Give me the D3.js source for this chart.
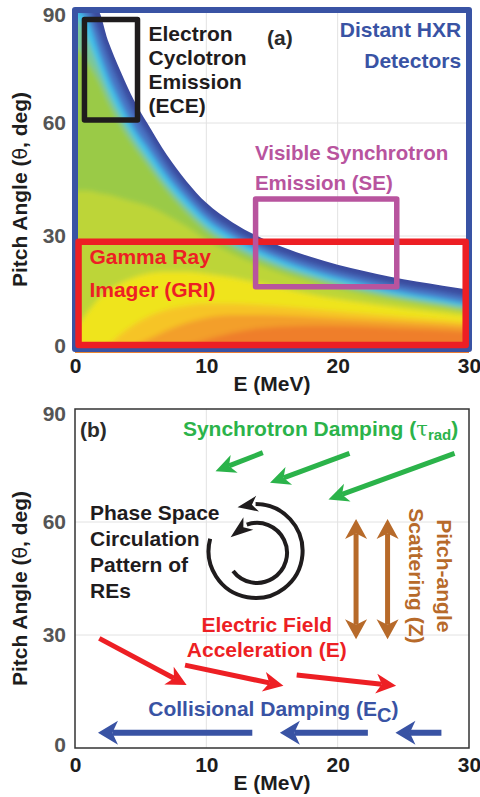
<!DOCTYPE html>
<html>
<head>
<meta charset="utf-8">
<script src="https://cdn.jsdelivr.net/npm/d3@7"></script>
<style>
  body { margin: 0; background: #fff; }
  svg text { font-family: "Liberation Sans", Arial, Helvetica, sans-serif; font-weight: bold; }
</style>
</head>
<body>
<svg id="chart" width="480" height="797"></svg>
<script>
// ---- data ----
const xTicks = [0, 10, 20, 30];
const yTicks = [0, 30, 60, 90];

// energy grid for the colour map levels (MeV)
const eGrid = [0, 1, 1.7, 2.5, 3.5, 4.5, 5.5, 7, 8.5, 10, 12, 14, 16, 18, 20, 22, 24, 26, 28, 30];
// pitch angle of each contour level
const boundaryLv    = [90, 90, 90, 82, 73.5, 66, 60, 51.5, 44.5, 38.8, 33.6, 29.8, 26.8, 24.4, 22.4, 20.7, 19.2, 17.9, 16.8, 15.7];
const midBlueLv     = [90, 90, 85, 77.5, 69.5, 62.5, 57, 48.8, 42.2, 36.6, 31.6, 27.9, 25, 22.6, 20.6, 18.9, 17.4, 16.1, 15, 13.9];
const cyanLv        = [90, 87, 80, 72.5, 65, 58.5, 53.5, 46, 39.8, 34.5, 29.8, 26.2, 23.3, 20.9, 18.9, 17.2, 15.7, 14.4, 13.3, 12.2];
const greenCyanLv   = [88, 82, 76, 69, 62, 56, 51, 43.8, 37.8, 32.8, 28.3, 24.8, 22, 19.7, 17.7, 16.1, 14.7, 13.4, 12.3, 11.3];
const greenLv       = [80, 76, 72, 66, 59.5, 54, 49.2, 42.2, 36.3, 31.4, 27.1, 23.7, 21, 18.8, 16.9, 15.3, 13.9, 12.7, 11.6, 10.6];
const yellowGreenLv = [42, 42, 41.5, 41, 40, 39, 38, 35.5, 32.5, 29, 25.3, 22.3, 19.8, 17.8, 16, 14.5, 13.2, 12, 11, 10];
const yellowLv      = [6, 10, 13, 15.5, 17.5, 19, 20, 20.5, 20.5, 20, 19, 17.5, 16, 14.5, 13.3, 12.3, 11.3, 10.4, 9.6, 8.9];
const lightOrangeLv = [0, 0, 0, 1, 4, 6.5, 8.5, 10.5, 11.5, 12, 12, 11.7, 11.2, 10.6, 10, 9.4, 8.8, 8.2, 7.7, 7.2];
const orangeLv      = [0, 0, 0, 0, 0, 1, 2.5, 5, 7, 8.3, 9, 9, 8.8, 8.5, 8.1, 7.7, 7.3, 6.9, 6.5, 6.1];
const darkOrangeLv  = [0, 0, 0, 0, 0, 0, 0, 0, 1, 2.5, 4.3, 5.5, 6, 6.2, 6.1, 5.9, 5.6, 5.3, 5, 4.7];

// diagnostic boxes in panel (a): [E0, E1, theta0, theta1]
const hxrBox = [0, 30, 0, 90];
const griBox = [0.27, 29.75, 1.05, 28.5];
const seBox  = [13.75, 24.5, 16.5, 39.8];
const eceBox = [0.72, 4.76, 60.8, 87.5];

// arrows in panel (b): [E tail, theta tail, E tip, theta tip]
const synchArrows = [[14.3, 78.4, 10.7, 73.5], [20.9, 78.2, 14.85, 70.4], [28.9, 78.2, 19.3, 66.0]];
const accelArrows = [[1.85, 29.1, 8.5, 16.7], [8.38, 22.0, 15.87, 16.5], [16.88, 19.4, 24.45, 16.5]];
const collArrows  = [[13.5, 4.05, 1.75, 4.05], [22.3, 4.05, 15.6, 4.05], [27.9, 4.05, 24.4, 4.05]];
const scatArrows  = [[21.4, 28.9, 21.4, 60.8], [23.8, 28.9, 23.8, 60.8]];
// circulation arcs: centre (E, theta), start / end angles in degrees
const circArcs = [
  {E: 13.75, t: 52.3, a0: 195, a1: -90, tip: -110},
  {E: 13.86, t: 51.8, a0: 143, a1: -110, tip: -146}
];
const circRadius = [47, 30];

// ---- setup ----
const svg = d3.select("#chart");
const x = d3.scaleLinear().domain([0, 30]).range([75, 469]);
const yA = d3.scaleLinear().domain([0, 90]).range([349, 10]);
const yB = d3.scaleLinear().domain([0, 90]).range([748, 409]);

const C = {
  blue: "#3953a4", red: "#ed1f24", magenta: "#b8549e", green: "#2bb34a",
  brown: "#b76a2a", black: "#1f1c1d", grid: "#e2e2e2"
};

function grid(g, y) {
  g.append("g").selectAll("line").data(xTicks.slice(1, -1)).join("line")
    .attr("x1", d => x(d)).attr("x2", d => x(d))
    .attr("y1", y(0)).attr("y2", y(90))
    .attr("stroke", C.grid).attr("stroke-width", 1);
  g.append("g").selectAll("line").data(yTicks.slice(1, -1)).join("line")
    .attr("x1", x(0)).attr("x2", x(30))
    .attr("y1", d => y(d)).attr("y2", d => y(d))
    .attr("stroke", C.grid).attr("stroke-width", 1);
}

function axes(g, y) {
  const ax = g.append("g").attr("transform", `translate(0,${y(0)})`)
    .call(d3.axisBottom(x).tickValues(xTicks).tickSize(0).tickPadding(9));
  ax.select(".domain").remove();
  ax.attr("font-size", 21).attr("font-family", null);
  ax.selectAll("text").attr("fill", "#1d1d1d");

  const ay = g.append("g").attr("transform", `translate(${x(0)},0)`)
    .call(d3.axisLeft(y).tickValues(yTicks).tickSize(0).tickPadding(9));
  ay.select(".domain").remove();
  ay.attr("font-size", 21).attr("font-family", null);
  // end labels sit a little inside the range, as in the original
  ay.selectAll("text").attr("fill", "#555")
    .attr("dy", d => d === 90 ? "0.56em" : d === 0 ? "0.17em" : "0.32em");

  g.append("text").attr("x", x(15)).attr("y", y(0) + 42)
    .attr("text-anchor", "middle").attr("font-size", 21).attr("fill", "#1d1d1d")
    .text("E (MeV)");

  const yl = g.append("text")
    .attr("transform", `translate(27,${(y(0) + y(90)) / 2 + 10}) rotate(-90)`)
    .attr("text-anchor", "middle").attr("font-size", 21).attr("fill", "#1d1d1d");
  yl.append("tspan").text("Pitch Angle (");
  yl.append("tspan").attr("font-weight", "normal").attr("font-family", "DejaVu Sans").attr("font-size", 19).text("θ");
  yl.append("tspan").text(", deg)");
}

function lines(g, arr, px, py, lh, opts) {
  const t = g.append("text").attr("x", px).attr("y", py)
    .attr("font-size", opts.size || 21).attr("fill", opts.color)
    .attr("text-anchor", opts.anchor || "start");
  arr.forEach((s, i) => t.append("tspan").attr("x", px).attr("dy", i ? lh : 0).text(s));
  return t;
}

function box(g, b, y, color, w) {
  g.append("rect")
    .attr("x", x(b[0])).attr("y", y(b[3]))
    .attr("width", x(b[1]) - x(b[0])).attr("height", y(b[2]) - y(b[3]))
    .attr("fill", "none").attr("stroke", color).attr("stroke-width", w)
    .attr("stroke-linejoin", "round");
}

function head(g, tx, ty, ux, uy, color, len, hw) {
  const bx = tx - ux * len, by = ty - uy * len;
  const px = -uy, py = ux;
  const nx = tx - ux * len * 0.72, ny = ty - uy * len * 0.72;
  g.append("path")
    .attr("d", `M${tx},${ty}L${bx + px * hw},${by + py * hw}L${nx},${ny}L${bx - px * hw},${by - py * hw}Z`)
    .attr("fill", color);
}

function arrow(g, a, y, color, w, len, hw, both) {
  const x1 = x(a[0]), y1 = y(a[1]), x2 = x(a[2]), y2 = y(a[3]);
  const L = Math.hypot(x2 - x1, y2 - y1), ux = (x2 - x1) / L, uy = (y2 - y1) / L;
  const s = both ? len * 0.72 : 0;
  g.append("line")
    .attr("x1", x1 + ux * s).attr("y1", y1 + uy * s)
    .attr("x2", x2 - ux * len * 0.72).attr("y2", y2 - uy * len * 0.72)
    .attr("stroke", color).attr("stroke-width", w);
  head(g, x2, y2, ux, uy, color, len, hw);
  if (both) head(g, x1, y1, -ux, -uy, color, len, hw);
}

// ================= panel (a) =================
const pa = svg.append("g");
grid(pa, yA);

const defs = svg.append("defs");
const f = defs.append("filter").attr("id", "soft")
  .attr("filterUnits", "userSpaceOnUse")
  .attr("x", 0).attr("y", 0).attr("width", 480).attr("height", 400);
f.append("feGaussianBlur").attr("stdDeviation", 2.6);

const padPts = lv => {
  const pts = eGrid.map((e, i) => [x(e), yA(lv[i])]);
  pts.unshift([x(0) - 10, yA(lv[0])]);
  pts.push([x(30) + 10, yA(lv[lv.length - 1])]);
  return pts;
};
const areaPx = d3.area().x(d => d[0]).y0(yA(0) + 8).y1(d => d[1]).curve(d3.curveMonotoneX);

defs.append("clipPath").attr("id", "mapClip").append("path")
  .attr("d", d3.area()
    .x((e) => x(e)).y0(yA(0) + 4).y1((e, i) => yA(boundaryLv[i]))
    .curve(d3.curveMonotoneX)(eGrid));

const map = pa.append("g").attr("clip-path", "url(#mapClip)")
  .append("g").attr("filter", "url(#soft)");
map.append("rect").attr("x", x(0) - 10).attr("y", yA(90) - 10)
  .attr("width", x(30) - x(0) + 20).attr("height", yA(0) - yA(90) + 20)
  .attr("fill", "#3b4b9f");

const levels = [
  [midBlueLv, "#4a76c6"],
  [cyanLv, "#3ec2ee"],
  [greenCyanLv, "#7ac79a"],
  [greenLv, "#9aca47"],
  [yellowGreenLv, "#bdd539"],
  [yellowLv, "#efe41f"],
  [lightOrangeLv, "#f6c427"],
  [orangeLv, "#f39f2b"],
  [darkOrangeLv, "#ef7e2c"]
];
map.selectAll("path.lv").data(levels).join("path")
  .attr("class", "lv")
  .attr("d", d => areaPx(padPts(d[0])))
  .attr("fill", d => d[1]);

box(pa, hxrBox, yA, C.blue, 6);
box(pa, griBox, yA, C.red, 6.5);
box(pa, seBox, yA, C.magenta, 5.5);
box(pa, eceBox, yA, C.black, 5.5);

axes(pa, yA);

lines(pa, ["Electron", "Cyclotron", "Emission", "(ECE)"], x(5.6), yA(81.8), 24, {color: C.black});
lines(pa, ["(a)"], x(15.6), yA(80.7), 0, {color: "#2a2a2a", anchor: "middle"});
lines(pa, ["Distant HXR", "Detectors"], x(29.4), yA(82.8), 31, {color: C.blue, anchor: "end"});
lines(pa, ["Visible Synchrotron", "Emission (SE)"], x(13.7), yA(50.2), 30, {color: C.magenta, size: 20.5});
lines(pa, ["Gamma Ray", "Imager (GRI)"], x(1.1), yA(22.5), 33, {color: C.red});

// ================= panel (b) =================
const pb = svg.append("g");
grid(pb, yB);
pb.append("rect").attr("x", x(0)).attr("y", yB(90))
  .attr("width", x(30) - x(0)).attr("height", yB(0) - yB(90))
  .attr("fill", "none").attr("stroke", "#333").attr("stroke-width", 1.5);
axes(pb, yB);

lines(pb, ["(b)"], x(0.38), yB(82.6), 0, {color: "#2a2a2a"});

const st = pb.append("text").attr("x", x(18.7)).attr("y", yB(82.8))
  .attr("text-anchor", "middle").attr("font-size", 21).attr("fill", C.green);
st.append("tspan").text("Synchrotron Damping (");
st.append("tspan").attr("font-weight", "normal").attr("font-family", "DejaVu Serif").attr("font-size", 21).text("τ");
st.append("tspan").attr("dy", 4).attr("font-size", 15).text("rad");
st.append("tspan").attr("dy", -4).text(")");

synchArrows.forEach(a => arrow(pb, a, yB, C.green, 5, 20, 9.5));

lines(pb, ["Phase Space", "Circulation", "Pattern of", "REs"], x(1.14), yB(60.5), 26, {color: C.black});

circArcs.forEach((c, i) => {
  const r = circRadius[i];
  const cx = x(c.E), cy = yB(c.t);
  const rad = Math.PI / 180;
  const p = d3.path();
  p.arc(cx, cy, r, c.a0 * rad, c.a1 * rad, true);
  pb.append("path").attr("d", p.toString()).attr("fill", "none")
    .attr("stroke", C.black).attr("stroke-width", 4);
  const bx = cx + r * Math.cos(c.a1 * rad), by = cy + r * Math.sin(c.a1 * rad);
  const tx = cx + r * Math.cos(c.tip * rad), ty = cy + r * Math.sin(c.tip * rad);
  const L = Math.hypot(tx - bx, ty - by);
  const ux = (tx - bx) / L, uy = (ty - by) / L;
  head(pb, tx + ux * 2, ty + uy * 2, ux, uy, C.black, L + 4, 8);
});

lines(pb, ["Electric Field", "Acceleration (E)"], x(14.6), yB(30.8), 25, {color: C.red, anchor: "middle"});
accelArrows.forEach(a => arrow(pb, a, yB, C.red, 5, 20, 10));

const ct = pb.append("text").attr("x", x(15.1)).attr("y", yB(8.5))
  .attr("text-anchor", "middle").attr("font-size", 21).attr("fill", C.blue);
ct.append("tspan").text("Collisional Damping (E");
ct.append("tspan").attr("dy", 6).attr("font-size", 20).text("C");
ct.append("tspan").attr("dy", -6).text(")");
collArrows.forEach(a => arrow(pb, a, yB, C.blue, 6, 20, 12));

scatArrows.forEach(a => arrow(pb, a, yB, C.brown, 5, 20, 11, true));
const sc = pb.append("g").attr("fill", C.brown).attr("font-size", 21);
[["Pitch-angle", 27.6], ["Scattering (Z)", 25.4]].forEach(d => {
  sc.append("text")
    .attr("transform", `translate(${x(d[1])},${yB(45.7)}) rotate(90)`)
    .attr("text-anchor", "middle").text(d[0]);
});
</script>
</body>
</html>
